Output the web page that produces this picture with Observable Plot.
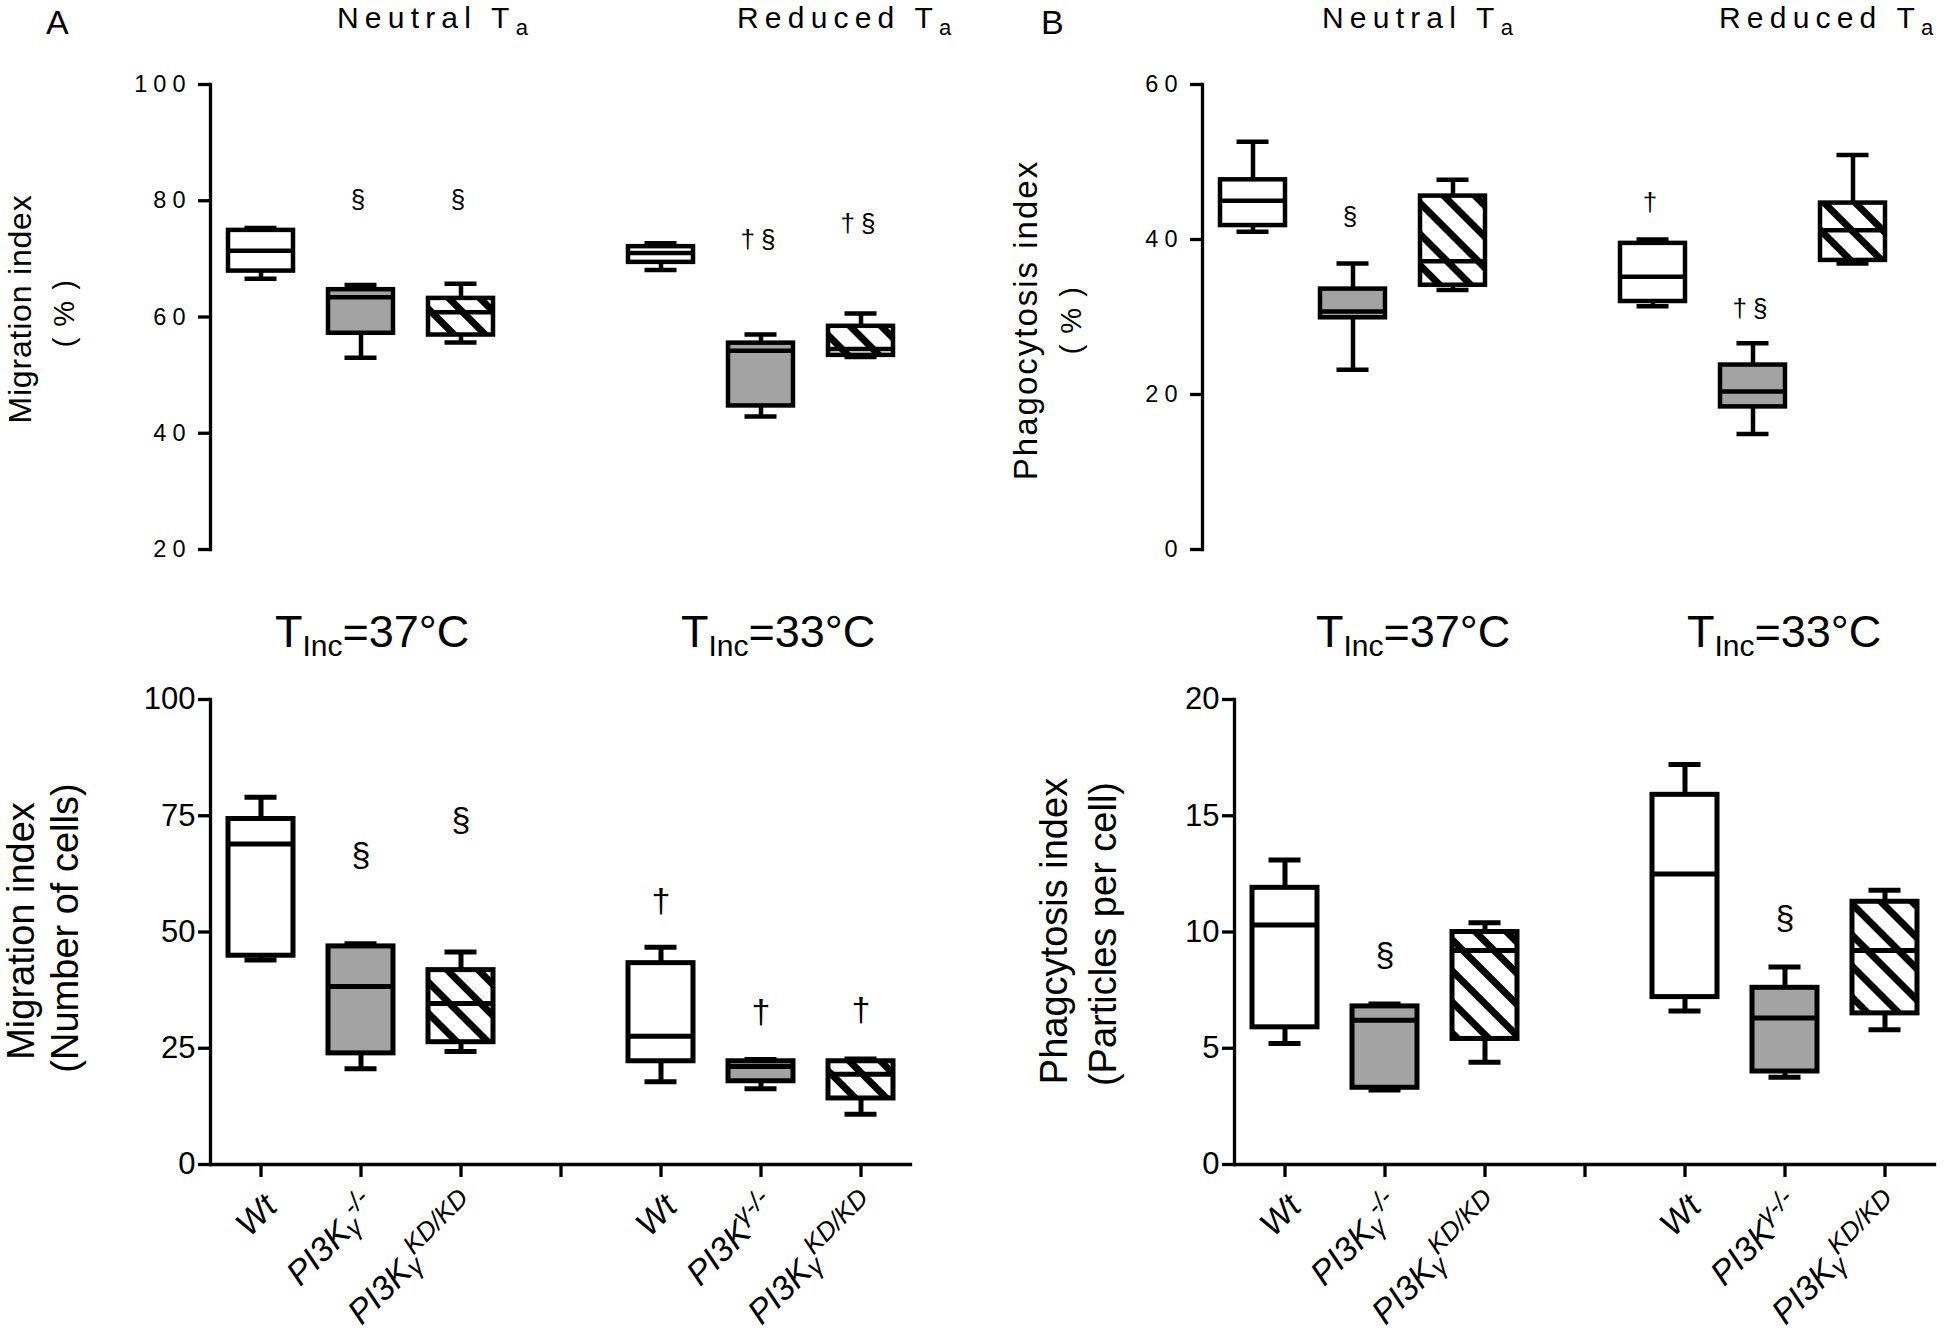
<!DOCTYPE html>
<html><head><meta charset="utf-8">
<script src="https://cdn.jsdelivr.net/npm/d3@7"></script>
<script src="https://cdn.jsdelivr.net/npm/@observablehq/plot@0.6"></script>
<style>
body{margin:0;background:#fff;}
#root{position:relative;width:1946px;height:1332px;overflow:hidden;background:#fff;font-family:"Liberation Sans",Arial,sans-serif;color:#000;}
#root > svg{position:absolute;}
</style></head><body>
<svg width="0" height="0" style="position:absolute">
  <defs>
    <pattern id="hatch" patternUnits="userSpaceOnUse" width="22" height="22" patternTransform="rotate(45)">
      <rect width="22" height="22" fill="#fff"></rect>
      <rect x="0" y="0" width="22" height="7" fill="#000"></rect>
    </pattern>
  </defs>
</svg>
<div id="root"></div>
<script>
// ---------------- data ----------------
const X_KEYS = ["g1:Wt", "g1:KO", "g1:KD", "gap", "g2:Wt", "g2:KO", "g2:KD"];
const BOX_KEYS = ["g1:Wt", "g1:KO", "g1:KD", "g2:Wt", "g2:KO", "g2:KD"];
const GENOTYPES = ["Wt", "KO", "KD", "Wt", "KO", "KD"];

// x tick label pieces
const labelWt = "Wt";
const labelBase = "PI3K";
const labelGamma = "γ";
const labelKO = "-/-";
const labelKD = "KD/KD";

// Panel A (top): Migration index (%), Neutral Ta | Reduced Ta
const migPctMin = [66.6, 53.0, 55.6, 68.1, 42.9, 53.1];
const migPctQ1  = [67.9, 57.2, 56.9, 69.4, 44.7, 53.4];
const migPctMed = [71.4, 63.4, 60.8, 71.0, 54.2, 54.5];
const migPctQ3  = [74.9, 64.7, 63.2, 72.1, 55.5, 58.4];
const migPctMax = [75.3, 65.5, 65.7, 72.7, 57.0, 60.6];
const migPctSig  = ["", "§", "§", "", "†§", "†§"];
const migPctSigY = [null, 80.1, 80.1, null, 73.3, 76.0];

// Panel B (top): Phagocytosis index (%)
const phagPctMin = [41.0, 23.2, 33.5, 31.4, 14.9, 36.9];
const phagPctQ1  = [41.8, 29.9, 34.1, 32.0, 18.4, 37.3];
const phagPctMed = [45.0, 30.7, 37.2, 35.2, 20.4, 41.2];
const phagPctQ3  = [47.7, 33.6, 45.6, 39.5, 23.8, 44.7];
const phagPctMax = [52.6, 36.9, 47.7, 40.0, 26.6, 50.9];
const phagPctSig  = ["", "§", "", "†", "†§", ""];
const phagPctSigY = [null, 43.0, null, 44.7, 31.1, null];

// Panel A (bottom): Migration index (Number of cells), TInc=37°C | 33°C
const migNMin = [44.0, 20.6, 24.3, 17.8, 16.3, 10.8];
const migNQ1  = [44.9, 23.9, 26.3, 22.2, 17.9, 14.2];
const migNMed = [68.9, 38.3, 34.6, 27.6, 21.1, 19.4];
const migNQ3  = [74.3, 46.9, 41.8, 43.3, 22.2, 22.2];
const migNMax = [79.0, 47.5, 45.7, 46.7, 22.6, 22.7];
const migNSig  = ["", "§", "§", "†", "†", "†"];
const migNSigY = [null, 66.6, 74.0, 56.6, 32.7, 33.1];

// Panel B (bottom): Phagocytosis index (Particles per cell)
const phagNMin = [5.2, 3.2, 4.4, 6.6, 3.75, 5.8];
const phagNQ1  = [5.9, 3.3, 5.4, 7.2, 4.0, 6.5];
const phagNMed = [10.3, 6.2, 9.2, 12.5, 6.3, 9.2];
const phagNQ3  = [11.9, 6.8, 10.0, 15.9, 7.6, 11.3];
const phagNMax = [13.1, 6.9, 10.4, 17.2, 8.5, 11.8];
const phagNSig  = ["", "§", "", "", "§", ""];
const phagNSigY = [null, 9.0, null, null, 10.6, null];

// ---------------- helpers ----------------
function makeRows(mn, q1, md, q3, mx, sig, sigY) {
  return BOX_KEYS.map((k, i) => ({
    key: k, geno: GENOTYPES[i], min: mn[i], q1: q1[i], med: md[i], q3: q3[i], max: mx[i],
    sig: sig[i], sigY: sigY[i]
  }));
}

const FONT = '"Liberation Sans", Arial, sans-serif';
const MAIN_LABEL_SIZE = 34, SCRIPT_SIZE = 26;

function panel(o) {
  const rows = o.rows, sw = o.sw;
  const marks = [
    Plot.ruleX(rows, {x: "key", y1: "min", y2: "q1", strokeWidth: sw, stroke: "#000"}),
    Plot.ruleX(rows, {x: "key", y1: "q3", y2: "max", strokeWidth: sw, stroke: "#000"}),
    Plot.tickY(rows, {x: "key", y: "min", strokeWidth: sw, stroke: "#000", inset: 16.5}),
    Plot.tickY(rows, {x: "key", y: "max", strokeWidth: sw, stroke: "#000", inset: 16.5}),
    Plot.barY(rows.filter(d => d.geno === "Wt"), {x: "key", y1: "q1", y2: "q3", fill: "#ffffff", stroke: "#000", strokeWidth: sw}),
    Plot.barY(rows.filter(d => d.geno === "KO"), {x: "key", y1: "q1", y2: "q3", fill: "#a3a3a3", stroke: "#000", strokeWidth: sw}),
    Plot.barY(rows.filter(d => d.geno === "KD"), {x: "key", y1: "q1", y2: "q3", fill: "url(#hatch)", stroke: "#000", strokeWidth: sw}),
    Plot.tickY(rows, {x: "key", y: "med", strokeWidth: sw, stroke: "#000"}),
    Plot.text(rows.filter(d => d.sig), {x: "key", y: "sigY", text: "sig", fontSize: o.sigSize, fill: "#000"}),
    Plot.frame({anchor: "left", stroke: "#000", strokeWidth: 3.3}),
    Plot.axisY({ticks: o.yTicks, tickSize: 12, tickPadding: o.tickPad, fontSize: o.tickFont, stroke: "#000", strokeWidth: 3.3, fill: "#000", label: null})
  ];
  if (o.xAxis) {
    marks.push(Plot.frame({anchor: "bottom", stroke: "#000", strokeWidth: 3.3}));
    marks.push(Plot.axisX({tickSize: 13, stroke: "#000", strokeWidth: 3.3, fill: "none", label: null}));
    marks.push(Plot.text(X_KEYS.filter(k => k !== "gap"), {
      x: d => d, text: d => d, frameAnchor: "bottom", rotate: -45,
      textAnchor: "end", lineAnchor: "bottom", dx: 18, dy: 44,
      fontSize: MAIN_LABEL_SIZE, fontStyle: "italic", fill: "#000"
    }));
  }
  const svg = Plot.plot({
    width: o.width, height: o.height,
    marginTop: o.mt, marginBottom: o.mb, marginLeft: o.ml, marginRight: o.mr,
    style: `font-family:${FONT};color:#000;background:transparent;overflow:visible;letter-spacing:${o.ls}px;`,
    x: {type: "band", domain: X_KEYS, paddingInner: 0.35, paddingOuter: 0.175, axis: null},
    y: {domain: o.yDomain, axis: null},
    marks
  });
  svg.style.left = o.left + "px";
  svg.style.top = o.top + "px";
  if (o.xAxis) richTicks(svg);
  return svg;
}

function richTicks(svg) {
  d3.select(svg).selectAll("text").each(function () {
    const key = this.textContent;
    if (!X_KEYS.includes(key) || key === "gap") return;
    const t = d3.select(this);
    t.text(null).attr("font-style", "italic");
    const [grp, g] = key.split(":");
    if (g === "Wt") { t.append("tspan").text(labelWt); return; }
    t.append("tspan").text(labelBase);
    if (g === "KO" && grp === "g2") {
      t.append("tspan").attr("font-size", SCRIPT_SIZE).attr("dy", -13).text(labelGamma + labelKO);
    } else {
      t.append("tspan").attr("font-size", SCRIPT_SIZE).attr("dy", 4).text(labelGamma);
      t.append("tspan").attr("font-size", SCRIPT_SIZE).attr("dy", -17).text(g === "KO" ? labelKO : labelKD);
    }
  });
}

const root = document.getElementById("root");

root.appendChild(panel({
  rows: makeRows(migPctMin, migPctQ1, migPctMed, migPctQ3, migPctMax, migPctSig, migPctSigY),
  yDomain: [20, 100], yTicks: [20, 40, 60, 80, 100],
  left: 0, top: 0, width: 973, height: 570, mt: 84, mb: 21, ml: 210, mr: 63,
  sw: 4.5, tickFont: 23.5, tickPad: 7, ls: 6, sigSize: 26, xAxis: false
}));
root.appendChild(panel({
  rows: makeRows(phagPctMin, phagPctQ1, phagPctMed, phagPctQ3, phagPctMax, phagPctSig, phagPctSigY),
  yDomain: [0, 60], yTicks: [0, 20, 40, 60],
  left: 973, top: 0, width: 973, height: 570, mt: 84, mb: 21, ml: 229, mr: 44,
  sw: 4.5, tickFont: 23.5, tickPad: 7, ls: 6, sigSize: 26, xAxis: false
}));
root.appendChild(panel({
  rows: makeRows(migNMin, migNQ1, migNMed, migNQ3, migNMax, migNSig, migNSigY),
  yDomain: [0, 100], yTicks: [0, 25, 50, 75, 100],
  left: 0, top: 580, width: 973, height: 752, mt: 119, mb: 168, ml: 210, mr: 63,
  sw: 5, tickFont: 31, tickPad: 3, ls: 0, sigSize: 34, xAxis: true
}));
root.appendChild(panel({
  rows: makeRows(phagNMin, phagNQ1, phagNMed, phagNQ3, phagNMax, phagNSig, phagNSigY),
  yDomain: [0, 20], yTicks: [0, 5, 10, 15, 20],
  left: 973, top: 580, width: 973, height: 752, mt: 119, mb: 168, ml: 261, mr: 12,
  sw: 5, tickFont: 31, tickPad: 3, ls: 0, sigSize: 34, xAxis: true
}));

// ---------------- overlay texts ----------------
const ov = d3.select(root).append("svg")
  .attr("width", 1946).attr("height", 1332)
  .style("left", "0px").style("top", "0px")
  .style("font-family", FONT).attr("fill", "#000");

function txt(x, y, parts, opts = {}) {
  const t = ov.append("text").attr("x", x).attr("y", y)
    .attr("font-size", opts.size || 30)
    .attr("letter-spacing", opts.ls || 0)
    .attr("text-anchor", opts.anchor || "start");
  if (opts.rotate) t.attr("transform", `rotate(${opts.rotate},${x},${y})`);
  for (const p of parts) {
    const s = t.append("tspan").text(p.t);
    if (p.size) s.attr("font-size", p.size);
    if (p.dy) s.attr("dy", p.dy);
  }
  return t;
}

// panel letters
txt(46, 34, [{t: "A"}], {size: 34});
txt(1041, 34, [{t: "B"}], {size: 34});

// top group headers
for (const [x, word] of [[337, "Neutral"], [737, "Reduced"], [1322, "Neutral"], [1719, "Reduced"]]) {
  txt(x, 28, [{t: word + " T"}, {t: "a", size: 22, dy: 7}], {size: 30, ls: 6.2});
}
// bottom group headers
for (const [x, temp] of [[275, "37"], [681, "33"], [1316, "37"], [1687, "33"]]) {
  txt(x, 647, [{t: "T"}, {t: "Inc", size: 30, dy: 9}, {t: "=" + temp + "°C", dy: -9}], {size: 45});
}

// y-axis titles
txt(31, 309, [{t: "Migration index"}], {size: 32, ls: 0.8, anchor: "middle", rotate: -90});
txt(74, 313, [{t: "( % )"}], {size: 29, ls: 1.5, anchor: "middle", rotate: -90});
txt(1037, 320, [{t: "Phagocytosis index"}], {size: 33, ls: 2, anchor: "middle", rotate: -90});
txt(1081, 320, [{t: "( % )"}], {size: 29, ls: 1.5, anchor: "middle", rotate: -90});
txt(34, 931, [{t: "Migration index"}], {size: 38, anchor: "middle", rotate: -90});
txt(78, 928, [{t: "(Number of cells)"}], {size: 38, anchor: "middle", rotate: -90});
txt(1067, 931, [{t: "Phagcytosis index"}], {size: 38, anchor: "middle", rotate: -90});
txt(1116, 934, [{t: "(Particles per cell)"}], {size: 38, anchor: "middle", rotate: -90});
</script>
</body></html>
